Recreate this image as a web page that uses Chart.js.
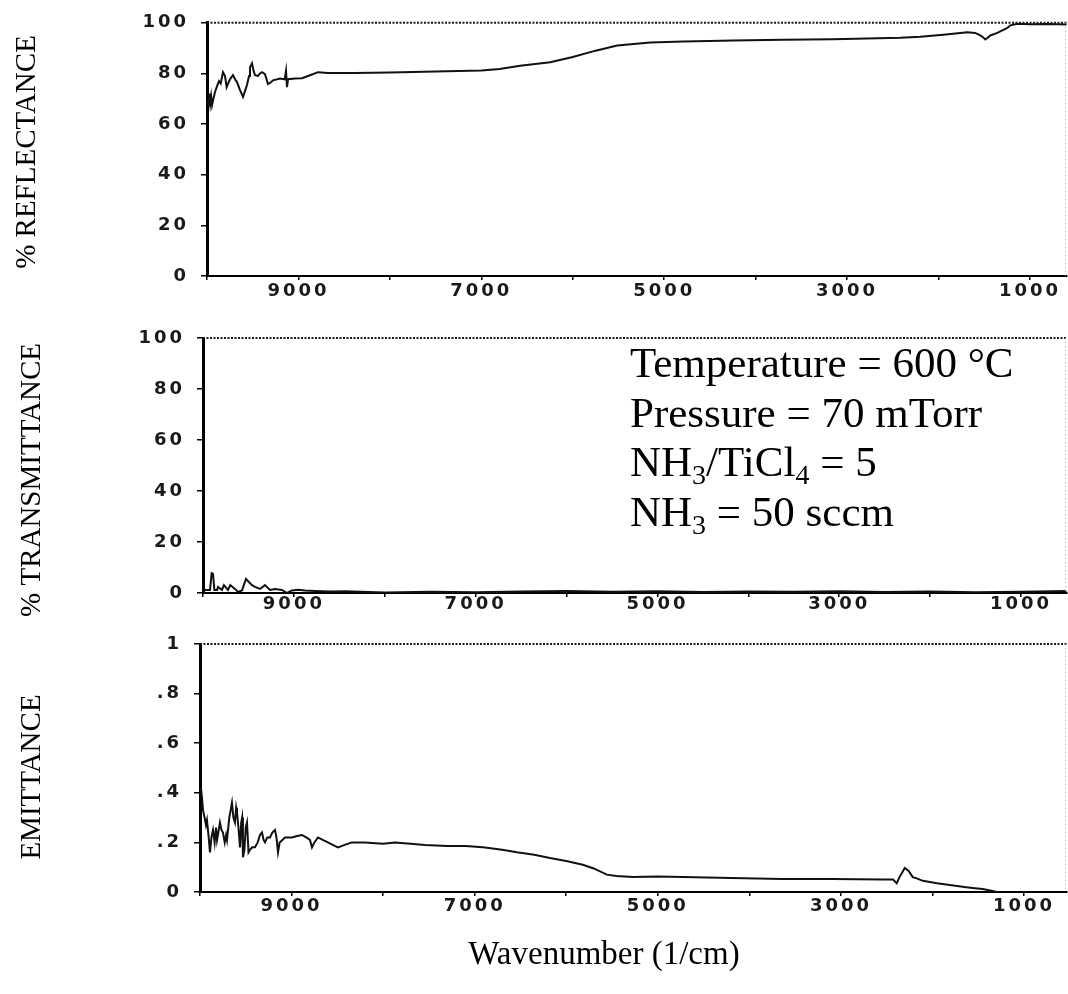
<!DOCTYPE html>
<html>
<head>
<meta charset="utf-8">
<script src="https://cdn.jsdelivr.net/npm/chart.js@4.4.1/dist/chart.umd.min.js"></script>
<style>
  html, body { margin: 0; padding: 0; background: #fff; }
  #wrap { position: relative; width: 1068px; height: 994px; overflow: hidden; background: #fff; }
  #wrap canvas { position: absolute; left: 0; }
</style>
</head>
<body>
<div id="wrap">
  <canvas id="refl" width="1068" height="310" style="top:0px"></canvas>
  <canvas id="trans" width="1068" height="310" style="top:310px"></canvas>
  <canvas id="emit" width="1068" height="374" style="top:620px"></canvas>
</div>
<script>
// ---- spectra: wavenumber (1/cm) and measured value ----
const reflWave = [9995, 9985, 9975, 9965, 9955, 9945, 9930, 9913, 9890, 9869, 9850, 9825, 9803, 9785, 9770, 9748, 9716, 9690, 9672, 9639, 9606, 9585, 9563, 9540, 9530, 9508, 9490, 9475, 9442, 9420, 9398, 9366, 9333, 9300, 9278, 9202, 9150, 9136, 9125, 9114, 9038, 8961, 8873, 8786, 8677, 8381, 8000, 7500, 7000, 6800, 6575, 6247, 6000, 5750, 5514, 5153, 4792, 4245, 3700, 3151, 2418, 2200, 1947, 1762, 1685, 1600, 1543, 1510, 1488, 1460, 1433, 1357, 1247, 1214, 1138, 1000, 800, 600];
const reflValue = [70, 67, 72, 68, 71, 67.5, 70, 72.6, 75, 77, 76, 80.5, 79, 74.6, 76, 77.7, 79.3, 77.5, 76.6, 73.4, 70.7, 73, 75.4, 79, 82.4, 84, 81, 79.3, 79, 80, 80.5, 79.7, 75.8, 76.5, 77.3, 78, 77.7, 81, 74.6, 77.7, 78, 78.1, 79.3, 80.5, 80.2, 80.2, 80.4, 80.8, 81.2, 81.8, 83, 84.4, 86.5, 89, 91, 92.2, 92.6, 93, 93.3, 93.5, 94.1, 94.5, 95.3, 96, 96.3, 96, 95, 94.2, 93.4, 94.2, 95, 96, 98, 99, 99.6, 99.4, 99.5, 99.3];

const transWave = [9990, 9978, 9923, 9905, 9890, 9875, 9846, 9835, 9791, 9770, 9725, 9700, 9648, 9615, 9571, 9527, 9461, 9428, 9373, 9318, 9263, 9208, 9131, 9076, 9021, 8955, 8878, 8768, 8603, 8438, 7998, 7500, 7000, 6500, 6000, 5500, 5000, 4500, 4000, 3500, 3000, 2500, 2000, 1500, 1000, 500];
const transValue = [1.5, 1.2, 1.2, 7.8, 7.5, 1.2, 1.2, 2.4, 1.2, 3.1, 1.2, 3.1, 1.6, 0.4, 1.0, 5.5, 3.1, 2.4, 1.6, 3.1, 1.2, 1.6, 1.2, 0.0, 1.0, 1.3, 1.0, 0.8, 0.6, 0.7, 0.2, 0.5, 0.3, 0.6, 0.8, 0.5, 0.7, 0.4, 0.6, 0.5, 0.7, 0.4, 0.6, 0.3, 0.5, 0.8];

const emitWave = [9990, 9978, 9967, 9950, 9935, 9924, 9905, 9891, 9875, 9858, 9840, 9825, 9814, 9800, 9782, 9765, 9749, 9730, 9715, 9705, 9680, 9665, 9651, 9635, 9618, 9605, 9596, 9580, 9563, 9550, 9540, 9531, 9515, 9500, 9487, 9470, 9454, 9430, 9400, 9370, 9345, 9323, 9305, 9290, 9265, 9236, 9210, 9181, 9165, 9148, 9130, 9100, 9072, 9040, 8996, 8950, 8886, 8840, 8799, 8777, 8750, 8712, 8660, 8603, 8550, 8493, 8420, 8341, 8200, 8000, 7871, 7700, 7544, 7300, 7100, 6910, 6700, 6539, 6350, 6179, 6000, 5819, 5700, 5557, 5450, 5273, 5000, 4727, 4200, 3635, 3100, 2544, 2430, 2391, 2360, 2303, 2260, 2216, 2172, 2107, 1950, 1812, 1650, 1561, 1452, 1343, 1299];
const emitValue = [0.42, 0.38, 0.33, 0.30, 0.27, 0.29, 0.22, 0.16, 0.22, 0.25, 0.20, 0.26, 0.21, 0.24, 0.28, 0.25, 0.24, 0.20, 0.23, 0.21, 0.30, 0.33, 0.36, 0.30, 0.28, 0.34, 0.32, 0.26, 0.18, 0.28, 0.30, 0.14, 0.17, 0.26, 0.28, 0.16, 0.17, 0.18, 0.18, 0.20, 0.23, 0.24, 0.21, 0.20, 0.22, 0.22, 0.24, 0.25, 0.22, 0.16, 0.20, 0.21, 0.22, 0.22, 0.22, 0.225, 0.23, 0.22, 0.21, 0.18, 0.20, 0.22, 0.21, 0.20, 0.19, 0.18, 0.19, 0.20, 0.20, 0.195, 0.20, 0.195, 0.19, 0.185, 0.185, 0.18, 0.17, 0.16, 0.15, 0.137, 0.125, 0.11, 0.095, 0.07, 0.065, 0.06, 0.062, 0.06, 0.056, 0.052, 0.052, 0.05, 0.05, 0.035, 0.06, 0.097, 0.085, 0.06, 0.055, 0.045, 0.035, 0.028, 0.02, 0.016, 0.012, 0.004, 0];

// ---- axis ticks and text ----
const xTickValues = [10000, 9000, 8000, 7000, 6000, 5000, 4000, 3000, 2000, 1000];
const xTickLabels = ['', '9000', '', '7000', '', '5000', '', '3000', '', '1000'];
const percentTicks = [0, 20, 40, 60, 80, 100];
const percentLabels = ['0', '20', '40', '60', '80', '100'];
const fractionTicks = [0, 0.2, 0.4, 0.6, 0.8, 1];
const fractionLabels = ['0', '.2', '.4', '.6', '.8', '1'];

const reflTitle = '% REFLECTANCE';
const transTitle = '% TRANSMITTANCE';
const emitTitle = 'EMITTANCE';
const xTitle = 'Wavenumber (1/cm)';

// deposition conditions: [text, isSubscript] runs per line
const noteLines = [
  [['Temperature = 600 °C', false]],
  [['Pressure = 70 mTorr', false]],
  [['NH', false], ['3', true], ['/TiCl', false], ['4', true], [' = 5', false]],
  [['NH', false], ['3', true], [' = 50 sccm', false]]
];

const SERIF = '"Liberation Serif", "Times New Roman", serif';
const TICK_FONT = { family: '"DejaVu Sans", sans-serif', size: 18, weight: 'bold' };

// frame, wide tick lettering and axis titles
const framePlugin = {
  id: 'frame',
  beforeDraw(chart) {
    chart.ctx.letterSpacing = '3px';
  },
  afterDraw(chart, args, opts) {
    const { ctx, chartArea: a } = chart;
    ctx.save();
    ctx.letterSpacing = '0px';
    // top edge of the plot box
    ctx.strokeStyle = '#1a1a1a';
    ctx.lineWidth = 2;
    ctx.setLineDash([2, 1.5]);
    ctx.beginPath();
    ctx.moveTo(a.left, a.top);
    ctx.lineTo(a.right, a.top);
    ctx.stroke();
    // faint right edge
    ctx.strokeStyle = '#b0b0b0';
    ctx.lineWidth = 1;
    ctx.setLineDash([1, 3]);
    ctx.beginPath();
    ctx.moveTo(a.right - 1.5, a.top);
    ctx.lineTo(a.right - 1.5, a.bottom);
    ctx.stroke();
    ctx.setLineDash([]);
    // vertical title
    ctx.fillStyle = '#000';
    ctx.font = '29px ' + SERIF;
    ctx.textAlign = 'center';
    ctx.textBaseline = 'middle';
    ctx.save();
    ctx.translate(opts.titleX, opts.titleY);
    ctx.rotate(-Math.PI / 2);
    ctx.fillText(opts.yTitle, 0, 0);
    ctx.restore();
    // horizontal title
    if (opts.xTitle) {
      ctx.font = '33px ' + SERIF;
      ctx.fillText(opts.xTitle, opts.xTitleX, opts.xTitleY);
    }
    // condition notes
    if (opts.notes) {
      ctx.textAlign = 'left';
      ctx.textBaseline = 'alphabetic';
      opts.notes.forEach((runs, i) => {
        let x = opts.notesX;
        const y = opts.notesY + i * opts.notesGap;
        runs.forEach(([txt, sub]) => {
          ctx.font = (sub ? '28px ' : '43px ') + SERIF;
          ctx.fillText(txt, x, sub ? y + 8 : y);
          x += ctx.measureText(txt).width;
        });
      });
    }
    ctx.restore();
  }
};

function makePanel(id, cfg) {
  const data = cfg.wave.map((w, i) => ({ x: w, y: cfg.value[i] }));
  return new Chart(document.getElementById(id), {
    type: 'line',
    data: {
      datasets: [{
        data,
        borderColor: '#111',
        borderWidth: 2,
        pointRadius: 0,
        tension: 0,
        fill: false
      }]
    },
    plugins: [framePlugin],
    options: {
      responsive: false,
      animation: false,
      events: [],
      layout: { padding: { left: 0, right: 1, top: cfg.top, bottom: 0 } },
      plugins: {
        legend: { display: false },
        tooltip: { enabled: false },
        frame: cfg.frame
      },
      scales: {
        x: {
          type: 'linear',
          reverse: true,
          min: cfg.xMin,
          max: 10000,
          afterBuildTicks(s) { s.ticks = xTickValues.map((v) => ({ value: v })); },
          afterFit(s) { s.height = cfg.xHeight; },
          border: { display: true, color: '#000', width: 2 },
          grid: { drawOnChartArea: false, drawTicks: true, tickLength: 4, color: '#000', lineWidth: 1.5 },
          ticks: {
            autoSkip: false,
            maxRotation: 0,
            padding: cfg.xPad,
            color: '#1a1a1a',
            font: TICK_FONT,
            callback: (v, i) => xTickLabels[i]
          }
        },
        y: {
          min: 0,
          max: cfg.yTicks[cfg.yTicks.length - 1],
          afterBuildTicks(s) { s.ticks = cfg.yTicks.map((v) => ({ value: v })); },
          afterFit(s) { s.width = cfg.left; },
          border: { display: true, color: '#000', width: 3 },
          grid: { drawOnChartArea: false, drawTicks: true, tickLength: 6, color: '#000', lineWidth: 1.5 },
          ticks: {
            padding: 12,
            color: '#1a1a1a',
            font: TICK_FONT,
            callback: (v, i) => cfg.yLabels[i]
          }
        }
      }
    }
  });
}

makePanel('refl', {
  wave: reflWave, value: reflValue, yTicks: percentTicks, yLabels: percentLabels,
  left: 207, top: 18, xHeight: 34, xMin: 595, xPad: 1,
  frame: { yTitle: reflTitle, titleX: 27, titleY: 152 }
});

makePanel('trans', {
  wave: transWave, value: transValue, yTicks: percentTicks, yLabels: percentLabels,
  left: 203, top: 28, xHeight: 27, xMin: 494, xPad: -3,
  frame: {
    yTitle: transTitle, titleX: 32, titleY: 170,
    notes: noteLines, notesX: 630, notesY: 67, notesGap: 49.5
  }
});

makePanel('emit', {
  wave: emitWave, value: emitValue, yTicks: fractionTicks, yLabels: fractionLabels,
  left: 200, top: 24, xHeight: 102, xMin: 531, xPad: 0,
  frame: { yTitle: emitTitle, titleX: 32, titleY: 157, xTitle: xTitle, xTitleX: 604, xTitleY: 335 }
});
</script>
</body>
</html>
